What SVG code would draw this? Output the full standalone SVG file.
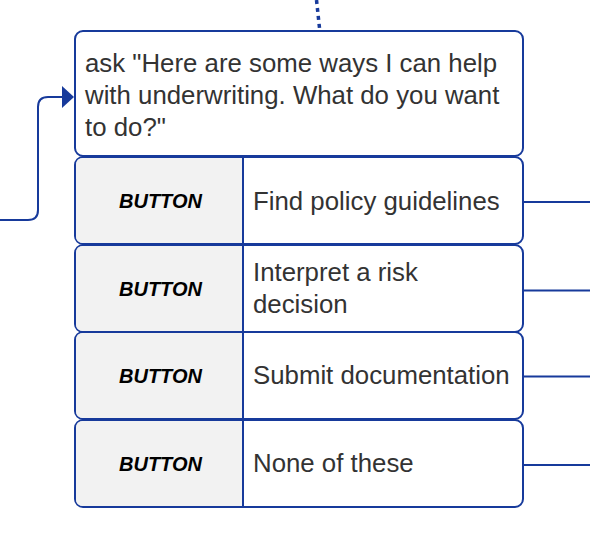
<svg xmlns="http://www.w3.org/2000/svg" width="590" height="540" viewBox="0 0 590 540">
<defs>
<style>
.box{fill:#fff;stroke:#173a9b;stroke-width:2}
.btn{fill:#f2f2f2;stroke:none}
.div{stroke:#173a9b;stroke-width:2}
.conn{fill:none;stroke:#173a9b;stroke-width:2}
.dot{fill:none;stroke:#173a9b;stroke-width:3.5;stroke-dasharray:4 4}
.t{font-family:"Liberation Sans",Arial,sans-serif;font-size:25.8px;fill:#333}
.b{font-family:"Liberation Sans",Arial,sans-serif;font-size:20px;font-weight:bold;font-style:italic;fill:#000;text-anchor:middle}
</style>
</defs>
<rect width="590" height="540" fill="#fff"/>
<g id="connectors">
<path class="dot" d="M316.5 0 L319.5 28"/>
<path class="conn" d="M0 220 H28 Q38 220 38 210 V107 Q38 97 48 97 H64"/>
<polygon points="62,86 74,97 62,108" fill="#173a9b"/>
<path class="conn" d="M523 202 H590"/>
<path class="conn" d="M523 290.5 H590"/>
<path class="conn" d="M523 376.5 H590"/>
<path class="conn" d="M523 465 H590"/>
</g>
<g id="ask">
<rect class="box" x="75" y="31" width="448" height="125" rx="8"/>
<text class="t" x="85" y="72">ask "Here are some ways I can help</text>
<text class="t" x="85" y="104">with underwriting. What do you want</text>
<text class="t" x="85" y="136">to do?"</text>
</g>
<g id="btn1">
<rect class="box" x="75" y="157" width="448" height="87" rx="8"/>
<path class="btn" d="M76 165 Q76 158 83 158 H242 V243 H83 Q76 243 76 236 Z"/>
<line class="div" x1="243" y1="157" x2="243" y2="244"/>
<text class="b" x="160.5" y="208">BUTTON</text>
<text class="t" x="253" y="210">Find policy guidelines</text>
</g>
<g id="btn2">
<rect class="box" x="75" y="245" width="448" height="87" rx="8"/>
<path class="btn" d="M76 253 Q76 246 83 246 H242 V331 H83 Q76 331 76 324 Z"/>
<line class="div" x1="243" y1="245" x2="243" y2="332"/>
<text class="b" x="160.5" y="296">BUTTON</text>
<text class="t" x="253" y="281">Interpret a risk</text>
<text class="t" x="253" y="313">decision</text>
</g>
<g id="btn3">
<rect class="box" x="75" y="332" width="448" height="87" rx="8"/>
<path class="btn" d="M76 340 Q76 333 83 333 H242 V418 H83 Q76 418 76 411 Z"/>
<line class="div" x1="243" y1="332" x2="243" y2="419"/>
<text class="b" x="160.5" y="383">BUTTON</text>
<text class="t" x="253" y="384">Submit documentation</text>
</g>
<g id="btn4">
<rect class="box" x="75" y="420" width="448" height="87" rx="8"/>
<path class="btn" d="M76 428 Q76 421 83 421 H242 V506 H83 Q76 506 76 499 Z"/>
<line class="div" x1="243" y1="420" x2="243" y2="507"/>
<text class="b" x="160.5" y="471">BUTTON</text>
<text class="t" x="253" y="472">None of these</text>
</g>
</svg>
